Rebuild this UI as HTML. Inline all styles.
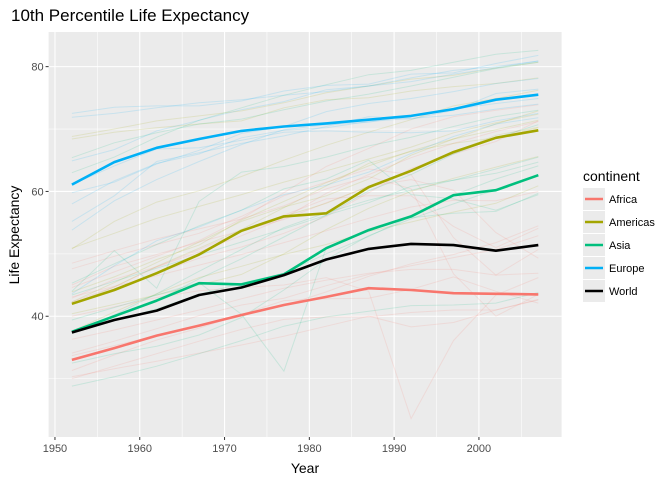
<!DOCTYPE html>
<html><head><meta charset="utf-8"><style>
body{margin:0;background:#fff;}
svg{display:block;font-family:"Liberation Sans",Arial,sans-serif;}
</style></head><body>
<svg id="chart" width="672" height="480" viewBox="0 0 672 480">
<text x="11" y="21" font-size="17" fill="#000">10th Percentile Life Expectancy</text>
<rect x="48.6" y="32" width="513" height="405" fill="#EBEBEB"/>
<g id="grid"></g>
<g id="bg"></g>
<g id="main"></g>
<g id="axes"></g>
<text x="305" y="473" font-size="14" text-anchor="middle">Year</text>
<text transform="translate(19,235) rotate(-90)" font-size="14" text-anchor="middle">Life Expectancy</text>
<g id="legend">
<text x="583" y="181" font-size="14">continent</text>
</g>
</svg>
<script>
const years=[1952,1957,1962,1967,1972,1977,1982,1987,1992,1997,2002,2007];
const xTicks=[1950,1960,1970,1980,1990,2000];
const yTicks=[40,60,80];
const continents=["Africa","Americas","Asia","Europe","World"];
const colors=["#F8766D","#A3A500","#00BF7D","#00B0F6","#000000"];
const africa=[33.0,34.9,36.9,38.5,40.2,41.8,43.1,44.5,44.2,43.7,43.6,43.5];
const americas=[42.0,44.2,46.9,49.9,53.7,56.0,56.5,60.7,63.3,66.3,68.6,69.8];
const asia=[37.5,40.0,42.5,45.3,45.1,46.7,50.9,53.8,56.0,59.4,60.2,62.6];
const europe=[61.1,64.7,67.0,68.4,69.7,70.4,70.9,71.5,72.1,73.2,74.7,75.5];
const world=[37.4,39.4,40.9,43.4,44.6,46.6,49.1,50.8,51.6,51.4,50.5,51.4];
const countriesAfrica=[
[40.0,41.5,43.0,44.1,44.6,45.0,46.2,44.0,23.6,36.1,43.4,46.2],
[30.3,31.6,32.8,34.1,35.4,36.8,38.4,40.0,38.3,39.0,41.0,42.6],
[36.3,37.8,39.4,41.0,42.8,44.5,45.8,46.9,47.5,47.5,46.6,46.9],
[41.9,44.4,46.9,49.3,51.1,53.3,56.0,59.8,63.7,66.0,68.0,71.3],
[42.9,45.9,47.9,50.3,52.9,55.7,59.7,62.7,65.4,67.7,69.6,71.2],
[45.0,48.0,49.9,51.9,53.7,55.5,58.2,60.8,61.9,60.2,53.4,49.3],
[48.5,50.5,52.4,54.0,55.6,57.7,60.4,62.4,60.4,46.8,40.0,43.5],
[43.1,44.8,46.5,48.2,49.9,51.8,53.7,55.7,57.5,58.6,58.5,60.0],
[34.1,36.0,38.0,40.1,41.8,42.9,44.9,46.7,48.1,49.4,50.7,52.9],
[30.0,32.0,34.0,36.0,37.9,39.5,39.9,39.9,40.6,41.0,41.0,42.7],
[44.6,47.1,49.6,52.1,55.6,59.8,64.0,66.9,70.0,72.0,73.0,73.9],
[42.3,44.7,47.9,50.7,53.6,56.2,58.8,59.3,59.3,54.4,51.0,54.1],
[47.6,49.6,51.5,53.3,56.0,59.3,61.5,63.6,62.7,52.6,46.6,50.7],
[33.7,35.3,36.9,38.5,40.0,41.7,43.9,46.4,48.4,49.9,51.8,54.5],
[31.3,33.8,36.2,38.1,40.3,42.5,42.8,42.9,44.3,46.3,44.0,42.1]];
const countriesAmericas=[
[37.6,40.7,43.6,46.2,48.0,49.9,51.5,53.6,55.1,56.7,58.1,60.9],
[40.4,41.9,43.4,45.0,46.7,50.0,53.9,57.3,60.0,62.1,63.9,65.6],
[50.9,53.3,55.7,57.6,59.5,61.5,63.3,65.2,67.1,69.4,71.0,72.4],
[68.8,70.0,71.3,72.1,72.9,74.2,75.8,76.9,78.0,78.6,79.8,80.7],
[50.8,55.2,58.3,60.1,62.4,65.0,67.4,69.5,71.5,73.7,74.9,76.2],
[42.0,44.1,47.0,50.0,53.7,56.0,58.1,60.8,63.4,66.3,69.0,70.3],
[42.3,45.4,48.6,51.9,55.2,57.5,59.3,62.0,65.8,68.4,70.8,72.9],
[43.9,46.3,49.1,51.4,55.4,58.4,61.4,64.1,66.5,68.4,69.9,71.4],
[68.4,69.5,70.2,70.8,71.3,73.4,74.7,75.0,76.1,76.8,77.3,78.2],
[41.9,44.7,48.0,50.9,53.9,57.4,60.9,64.5,66.4,67.7,68.6,70.2]];
const countriesAsia=[
[28.8,30.3,32.0,34.0,36.1,38.4,39.9,40.8,41.7,41.8,42.1,43.8],
[39.4,41.4,43.4,45.4,40.3,31.2,51.0,53.9,55.8,56.5,56.8,59.7],
[37.4,40.2,43.6,47.2,50.7,54.2,56.6,58.6,60.2,61.8,62.9,64.7],
[44.0,50.5,44.5,58.4,63.1,64.0,65.5,67.3,68.7,70.4,72.0,73.0],
[63.0,65.5,68.7,71.4,73.4,75.4,77.1,78.7,79.4,80.7,82.0,82.6],
[32.5,34.0,35.2,37.0,39.8,44.2,49.1,52.9,55.6,58.0,60.3,62.7],
[37.5,39.9,42.5,46.0,49.2,52.7,56.2,60.1,62.7,66.0,68.6,70.7],
[45.3,48.4,51.5,54.5,57.0,60.4,62.0,65.0,59.5,58.8,57.0,59.5],
[43.4,45.6,47.7,49.8,51.9,54.0,56.2,58.2,60.8,61.8,63.6,65.5],
[37.5,39.3,41.2,43.5,45.3,46.9,50.0,52.8,56.0,59.4,62.0,64.1],
[65.4,67.8,69.4,70.8,71.6,73.1,74.5,75.6,76.9,78.3,79.7,80.7]];
const countriesEurope=[
[43.6,48.1,52.1,54.3,57.0,59.5,61.0,63.1,66.1,68.8,70.8,71.8],
[59.8,61.5,64.4,66.6,69.3,70.4,72.8,74.1,74.9,76.0,77.3,78.1],
[71.9,72.5,73.4,74.2,74.7,75.4,76.0,76.9,78.2,79.4,80.0,80.9],
[55.2,59.3,64.8,66.2,67.7,68.9,70.4,72.0,71.6,73.0,75.7,76.4],
[53.8,58.5,61.9,64.8,67.5,69.9,70.7,71.1,72.2,73.2,74.1,74.9],
[61.1,64.1,66.8,67.0,68.2,69.5,69.7,69.5,69.4,69.7,71.3,72.5],
[72.5,73.5,73.7,73.7,74.5,76.1,77.0,77.2,78.8,79.0,80.5,81.8],
[64.9,66.7,69.7,71.4,73.1,74.4,76.3,76.9,77.6,78.8,79.8,80.9],
[58.0,61.7,64.5,66.0,68.6,69.8,70.2,71.2,71.7,72.2,73.2,74.0]];

const NS="http://www.w3.org/2000/svg";
const L=48.6,R=561.6,T=32,B=437;
const xMin=1949.25,xMax=2009.75,yMin=20.65,yMax=85.55;
function xs(v){return L+(v-xMin)/(xMax-xMin)*(R-L);}
function ys(v){return B-(v-yMin)/(yMax-yMin)*(B-T);}
function mk(tag,attrs,parent){const e=document.createElementNS(NS,tag);for(const k in attrs)e.setAttribute(k,attrs[k]);parent.appendChild(e);return e;}
const grid=document.getElementById('grid');
for(let v=1955;v<=2005;v+=10){const l=mk('line',{x1:xs(v),x2:xs(v),y1:T,y2:B,stroke:'#fff','stroke-width':0.55},grid);

}
for(let v=30;v<=80;v+=20){const l=mk('line',{x1:L,x2:R,y1:ys(v),y2:ys(v),stroke:'#fff','stroke-width':0.55},grid);

}
const axes=document.getElementById('axes');
xTicks.forEach(v=>{const l=mk('line',{x1:xs(v),x2:xs(v),y1:T,y2:B,stroke:'#fff','stroke-width':1.1},grid);


mk('line',{x1:xs(v),x2:xs(v),y1:B,y2:B+3,stroke:'#333','stroke-width':1},axes);
const t=mk('text',{x:xs(v),y:B+15,'font-size':11,fill:'#4D4D4D','text-anchor':'middle'},axes);t.textContent=v;

});
yTicks.forEach(v=>{const l=mk('line',{x1:L,x2:R,y1:ys(v),y2:ys(v),stroke:'#fff','stroke-width':1.1},grid);


mk('line',{x1:L-3,x2:L,y1:ys(v),y2:ys(v),stroke:'#333','stroke-width':1},axes);
const t=mk('text',{x:L-5,y:ys(v)+4,'font-size':11,fill:'#4D4D4D','text-anchor':'end'},axes);t.textContent=v;

});
function pts(arr){return arr.map((v,i)=>xs(years[i]).toFixed(1)+','+ys(v).toFixed(1)).join(' ');}
const bg=document.getElementById('bg');
[[countriesAfrica,0],[countriesAmericas,1],[countriesAsia,2],[countriesEurope,3]].forEach(([set,ci])=>{
set.forEach(arr=>{const p=mk('polyline',{points:pts(arr),fill:'none',stroke:colors[ci],'stroke-width':1,'stroke-opacity':0.15},bg);

});});
const main=document.getElementById('main');
[africa,americas,asia,europe,world].forEach((arr,i)=>{const p=mk('polyline',{points:pts(arr),fill:'none',stroke:colors[i],'stroke-width':2.6,'stroke-linejoin':'round'},main);

});
const lg=document.getElementById('legend');
continents.forEach((c,i)=>{const y0=188+i*23;
const r=mk('rect',{x:583,y:y0,width:22,height:22,fill:'#EBEBEB'},lg);


mk('line',{x1:585,x2:603,y1:y0+11,y2:y0+11,stroke:colors[i],'stroke-width':2.6},lg);
const t=mk('text',{x:609,y:y0+15,'font-size':11,fill:'#000'},lg);t.textContent=c;

});
</script>
</body></html>
